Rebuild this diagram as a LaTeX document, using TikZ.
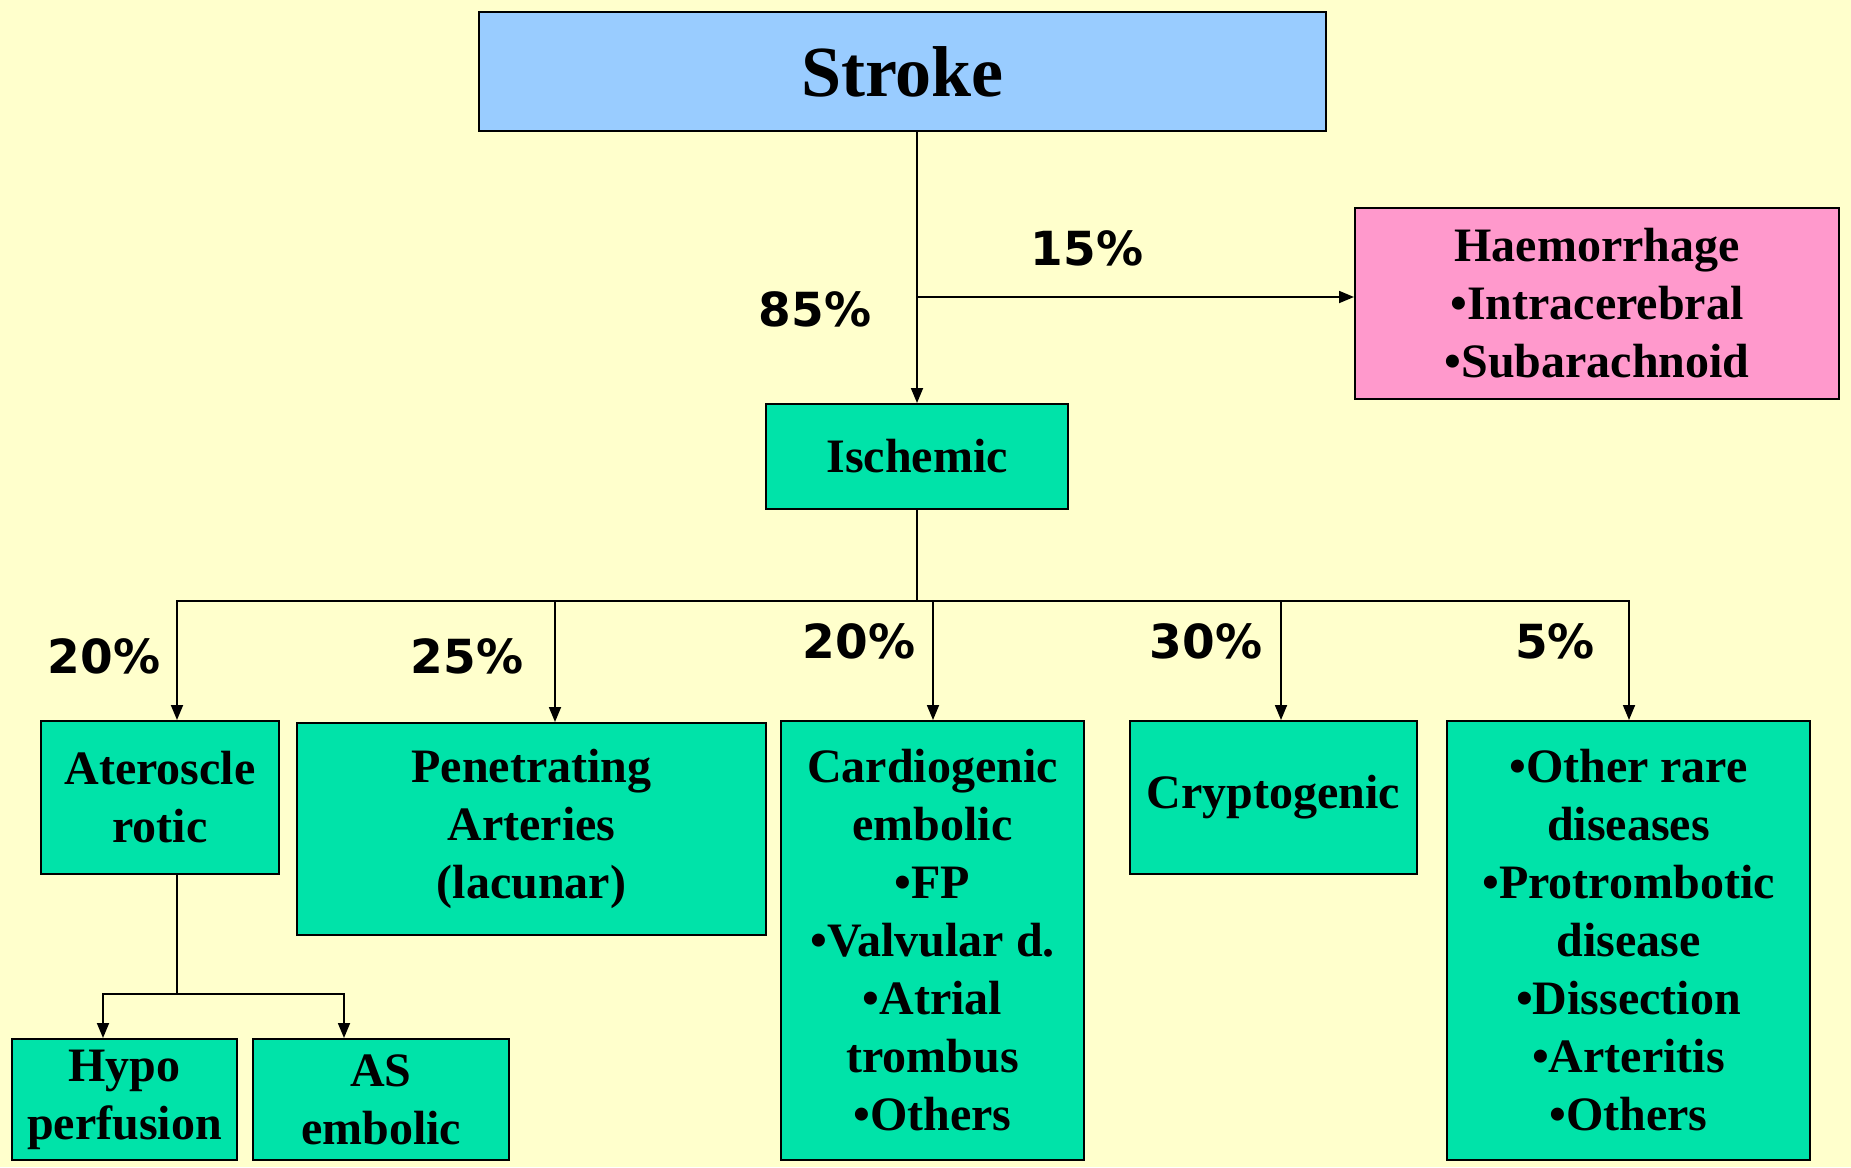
\documentclass[tikz,border=0pt]{standalone}
\usepackage{fontspec}
\setmainfont{Liberation Serif}
\newfontfamily\pctfont{DejaVu Sans}
\usetikzlibrary{arrows.meta}

\definecolor{bgyellow}{HTML}{FFFFCC}
\definecolor{strokeblue}{HTML}{99CCFF}
\definecolor{haempink}{HTML}{FF99CC}
\definecolor{ischgreen}{HTML}{00E3A9}

\tikzset{
  box/.style={draw=black, line width=2pt, inner sep=0pt, align=center,
              font=\fontsize{48}{58}\selectfont\bfseries},
  greenbox/.style={box, fill=ischgreen},
  pct/.style={font=\pctfont\fontsize{47}{50}\selectfont\bfseries},
  conn/.style={line width=1.8pt},
  arr/.style={conn, -{Triangle[length=15pt,width=12pt]}},
}

\begin{document}
\begin{tikzpicture}[x=1pt, y=-1pt]

%% sfondo
\fill[bgyellow] (0,0) rectangle (1851,1167);

%% === LIVELLO 1: stroke / haemorrhage / ischemic ===
\node[box, fill=strokeblue, minimum width=847pt, minimum height=119pt,
      font=\fontsize{72}{80}\selectfont\bfseries] (stroke) at (902.5,71.5) {Stroke};
\node[box, fill=haempink, minimum width=484pt, minimum height=191pt] (haem) at (1597,303.5)
     {Haemorrhage\\•Intracerebral\\•Subarachnoid};
\node[greenbox, minimum width=302pt, minimum height=105pt] (isch) at (917,456.5) {Ischemic};

\coordinate (split) at (917,297);
\draw[arr] (stroke.south -| isch.north) -- (isch.north);
\draw[arr] (split) -- (split -| haem.west);

\node[pct] (p15) at (1087,248) {15\%};
\node[pct] (p85) at (815,309)  {85\%};

%% === LIVELLO 2: sottotipi ischemici ===
\node[greenbox, minimum width=238pt, minimum height=153pt] (ater)   at (160,797.5)
     {Ateroscle\\rotic};
\node[greenbox, minimum width=469pt, minimum height=212pt] (pen)    at (531.5,829)
     {Penetrating\\Arteries\\(lacunar)};
\node[greenbox, minimum width=303pt, minimum height=439pt] (cardio) at (932.5,940.5)
     {Cardiogenic\\embolic\\•FP\\•Valvular d.\\•Atrial\\trombus\\•Others};
\node[greenbox, minimum width=287pt, minimum height=153pt] (crypto) at (1273.5,797.5)
     {Cryptogenic};
\node[greenbox, minimum width=363pt, minimum height=439pt] (other)  at (1628.5,940.5)
     {•Other rare\\diseases\\•Protrombotic\\disease\\•Dissection\\•Arteritis\\•Others};

\coordinate (bus) at (917,601);
\draw[conn] (isch.south) -- (bus);
\foreach \n/\dx in {ater/17, pen/23.5, cardio/0.5, crypto/7.5, other/0.5}
    \draw[arr] (bus) -| ([xshift=\dx pt]\n.north);

\foreach \p/\x/\y/\t in {p20a/104/656/20, p25/467/656/25, p20b/859/641/20, p30/1206/641/30, p5/1555/641/5}
    \node[pct] (\p) at (\x,\y) {\t\%};

%% === LIVELLO 3: aterosclerotico ===
\node[greenbox, minimum width=225pt, minimum height=121pt] (hypo)  at (124.5,1099.5)
     {Hypo\\perfusion};
\node[greenbox, minimum width=256pt, minimum height=121pt] (asemb) at (381,1099.5)
     {AS\\embolic};

\coordinate (subbus) at (177,994);
\draw[conn] ([xshift=17pt]ater.south) -- (subbus);
\draw[arr] (subbus) -| ([xshift=-21.5pt]hypo.north);
\draw[arr] (subbus) -| ([xshift=-37pt]asemb.north);

\end{tikzpicture}
\end{document}
